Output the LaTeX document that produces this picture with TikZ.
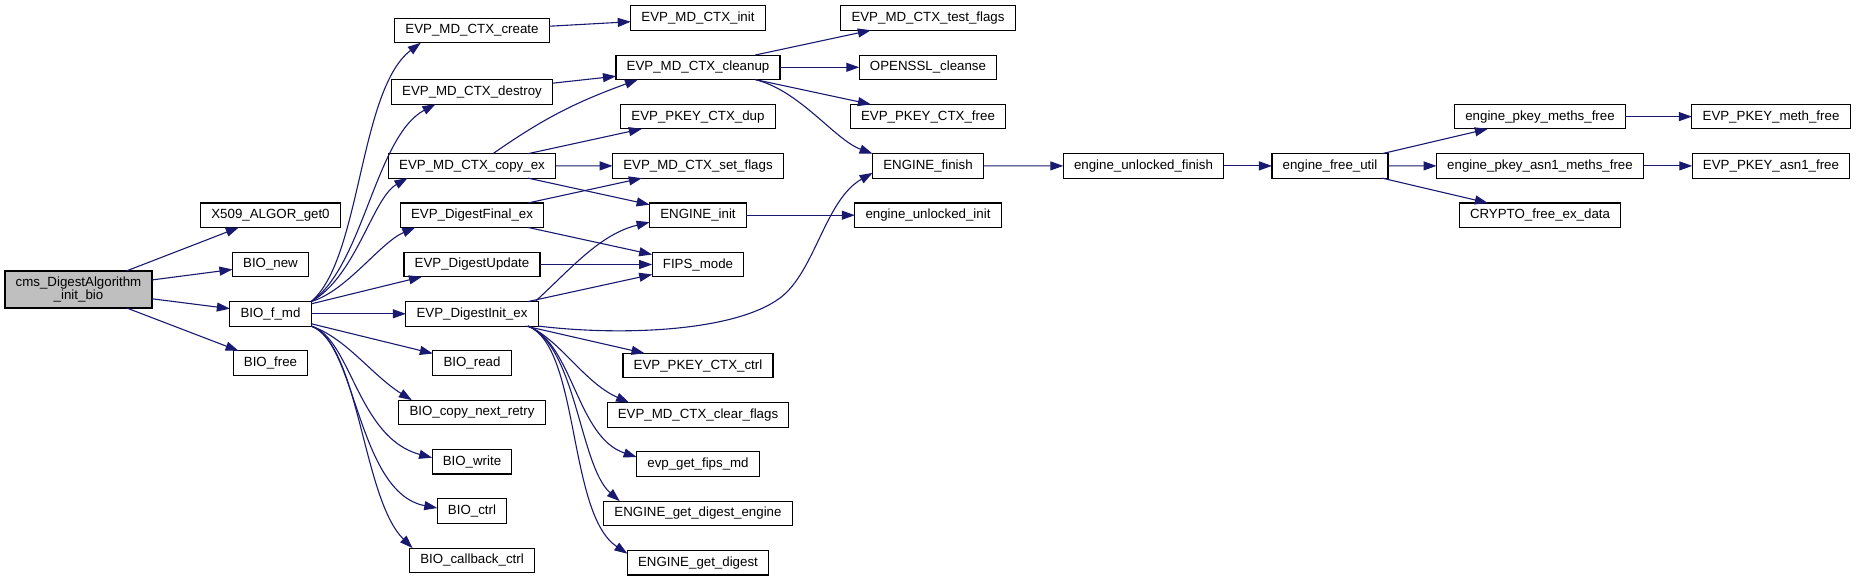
\documentclass[tikz,border=0pt]{standalone}
\usepackage{fontspec}
\setmainfont{Liberation Sans}
\usepackage{xcolor}
\usepackage{tikz}
\usetikzlibrary{positioning,arrows.meta}
\definecolor{callblue}{HTML}{191970}
\definecolor{rootgray}{HTML}{BFBFBF}

\begin{document}
\begin{tikzpicture}[x=1pt, y=-1pt, node distance=24.8pt and 20pt, >={Triangle[length=13pt,width=9pt]}, every node/.style={font=\fontsize{13.3}{12.5}\selectfont}, fn/.style={draw=black, line width=1.1pt, fill=white, inner xsep=10.7pt, inner ysep=2pt, outer sep=0pt, minimum height=24.5pt, align=center}, root/.style={fn, fill=rootgray, minimum height=37pt}, call/.style={->, draw=callblue, line width=1.1pt}]
\useasboundingbox (0,0) rectangle (1856,581);
\node[root] (root) at (78.5,289.5) {cms\_DigestAlgorithm\\\_init\_bio};
\node[fn] (x509get) at (270.5,215.2) {X509\_ALGOR\_get0};
\node[fn, below=of x509get] (bionew) {BIO\_new};
\node[fn, below=of bionew] (biofmd) {BIO\_f\_md};
\node[fn, below=of biofmd] (biofree) {BIO\_free};
\node[fn] (mdcreate) at (472,30.5) {EVP\_MD\_CTX\_create};
\node[fn] (mddestroy) at (472,92) {EVP\_MD\_CTX\_destroy};
\node[fn] (mdcopy) at (472,165.9) {EVP\_MD\_CTX\_copy\_ex};
\node[fn, below=of mdcopy] (dfinal) {EVP\_DigestFinal\_ex};
\node[fn, below=of dfinal] (dupdate) {EVP\_DigestUpdate};
\node[fn, below=of dupdate] (dinit) {EVP\_DigestInit\_ex};
\node[fn, below=of dinit] (bioread) {BIO\_read};
\node[fn, below=of bioread] (biocopy) {BIO\_copy\_next\_retry};
\node[fn, below=of biocopy] (biowrite) {BIO\_write};
\node[fn, below=of biowrite] (bioctrl) {BIO\_ctrl};
\node[fn, below=of bioctrl] (biocb) {BIO\_callback\_ctrl};
\node[fn] (mdinit) at (698,18) {EVP\_MD\_CTX\_init};
\node[fn, below=of mdinit] (mdcleanup) {EVP\_MD\_CTX\_cleanup};
\node[fn, below=of mdcleanup] (pkdup) {EVP\_PKEY\_CTX\_dup};
\node[fn, below=of pkdup] (setflags) {EVP\_MD\_CTX\_set\_flags};
\node[fn, below=of setflags] (enginit) {ENGINE\_init};
\node[fn, below=of enginit] (fipsmode) {FIPS\_mode};
\node[fn] (pkctrl) at (698,365.5) {EVP\_PKEY\_CTX\_ctrl};
\node[fn, below=of pkctrl] (clrflags) {EVP\_MD\_CTX\_clear\_flags};
\node[fn, below=of clrflags] (fipsmd) {evp\_get\_fips\_md};
\node[fn, below=of fipsmd] (gdengine) {ENGINE\_get\_digest\_engine};
\node[fn, below=of gdengine] (gdigest) {ENGINE\_get\_digest};
\node[fn] (testflags) at (928,18) {EVP\_MD\_CTX\_test\_flags};
\node[fn, below=of testflags] (cleanse) {OPENSSL\_cleanse};
\node[fn, below=of cleanse] (pkfree) {EVP\_PKEY\_CTX\_free};
\node[fn, below=of pkfree] (engfinish) {ENGINE\_finish};
\node[fn, below=of engfinish] (unlinit) {engine\_unlocked\_init};
\node[fn] (unlfinish) at (1143.5,165.9) {engine\_unlocked\_finish};
\node[fn] (freeutil) at (1330,165.9) {engine\_free\_util};
\node[fn] (pmfree) at (1540,116.6) {engine\_pkey\_meths\_free};
\node[fn, below=of pmfree] (pafree) {engine\_pkey\_asn1\_meths\_free};
\node[fn, below=of pafree] (exdata) {CRYPTO\_free\_ex\_data};
\node[fn] (methfree) at (1771,116.6) {EVP\_PKEY\_meth\_free};
\node[fn, below=of methfree] (asn1free) {EVP\_PKEY\_asn1\_free};
\coordinate (bend) at (780,298);
\draw[call] (root) -- (x509get);
\draw[call] (root) -- (bionew);
\draw[call] (root) -- (biofmd);
\draw[call] (root) -- (biofree);
\draw[call] (biofmd.north east) .. controls +(50,-42) and +(-62,47) .. ([xshift=26pt]mdcreate.south west);
\draw[call] (biofmd.north east) .. controls +(52,-35) and +(-60,32) .. ([xshift=44pt]mddestroy.south west);
\draw[call] (biofmd.north east) .. controls +(45,-25) and +(-35,20) .. ([xshift=19pt]mdcopy.south west);
\draw[call] (biofmd.north east) .. controls +(35,-10) and +(-35,15) .. ([xshift=15pt]dfinal.south west);
\draw[call] (biofmd) -- (dupdate);
\draw[call] (biofmd) -- (dinit);
\draw[call] (biofmd) -- (bioread);
\draw[call] (biofmd.south east) .. controls +(35,12) and +(-40,-25) .. ([xshift=13pt]biocopy.north west);
\draw[call] (biofmd.south east) .. controls +(40,12) and +(-75,-20) .. ([yshift=4pt]biowrite.west);
\draw[call] (biofmd.south east) .. controls +(45,15) and +(-80,-15) .. ([yshift=3pt]bioctrl.west);
\draw[call] (biofmd.south east) .. controls +(48,18) and +(-50,-49) .. ([xshift=3pt]biocb.north west);
\draw[call] (mdcreate) -- (mdinit);
\draw[call] (mddestroy) -- (mdcleanup);
\draw[call] ([xshift=21pt]mdcopy.north) to[out=35,in=200] ([xshift=22pt]mdcleanup.south west);
\draw[call] (mdcopy) -- (pkdup);
\draw[call] (mdcopy) -- (setflags);
\draw[call] (mdcopy) -- (enginit);
\draw[call] (dfinal) -- (setflags);
\draw[call] (dfinal) -- (fipsmode);
\draw[call] (dupdate) -- (fipsmode);
\draw[call] (dinit) -- (fipsmode);
\draw[call] ([xshift=-3pt]dinit.north east) .. controls +(35,-32) and +(-50,12) .. ([yshift=-7pt]enginit.west);
\draw[call] (dinit.south east) .. controls +(82,10) and +(-46,34) .. (bend) .. controls +(35,-26) and +(-47.6,27) .. ([yshift=-7pt]engfinish.west);
\draw[call] (dinit) -- (pkctrl);
\draw[call] ([xshift=-10pt]dinit.south east) .. controls +(32,14) and +(-45,-20) .. ([xshift=22pt]clrflags.north west);
\draw[call] ([xshift=-10pt]dinit.south east) .. controls +(45,18) and +(-60,-20) .. ([yshift=7pt]fipsmd.west);
\draw[call] ([xshift=-10pt]dinit.south east) .. controls +(48,20) and +(-40,-35) .. ([xshift=16pt]gdengine.north west);
\draw[call] ([xshift=-10pt]dinit.south east) .. controls +(52,22) and +(-60,-40) .. ([yshift=9pt]gdigest.west);
\draw[call] (mdcleanup) -- (testflags);
\draw[call] (mdcleanup) -- (cleanse);
\draw[call] (mdcleanup) -- (pkfree);
\draw[call] ([xshift=-25pt]mdcleanup.south east) .. controls +(45,11) and +(-38,-14) .. (engfinish.north west);
\draw[call] (enginit) -- (unlinit);
\draw[call] (engfinish) -- (unlfinish);
\draw[call] (unlfinish) -- (freeutil);
\draw[call] (freeutil) -- (pmfree);
\draw[call] (freeutil) -- (pafree);
\draw[call] (freeutil) -- (exdata);
\draw[call] (pmfree) -- (methfree);
\draw[call] (pafree) -- (asn1free);
\end{tikzpicture}
\end{document}
